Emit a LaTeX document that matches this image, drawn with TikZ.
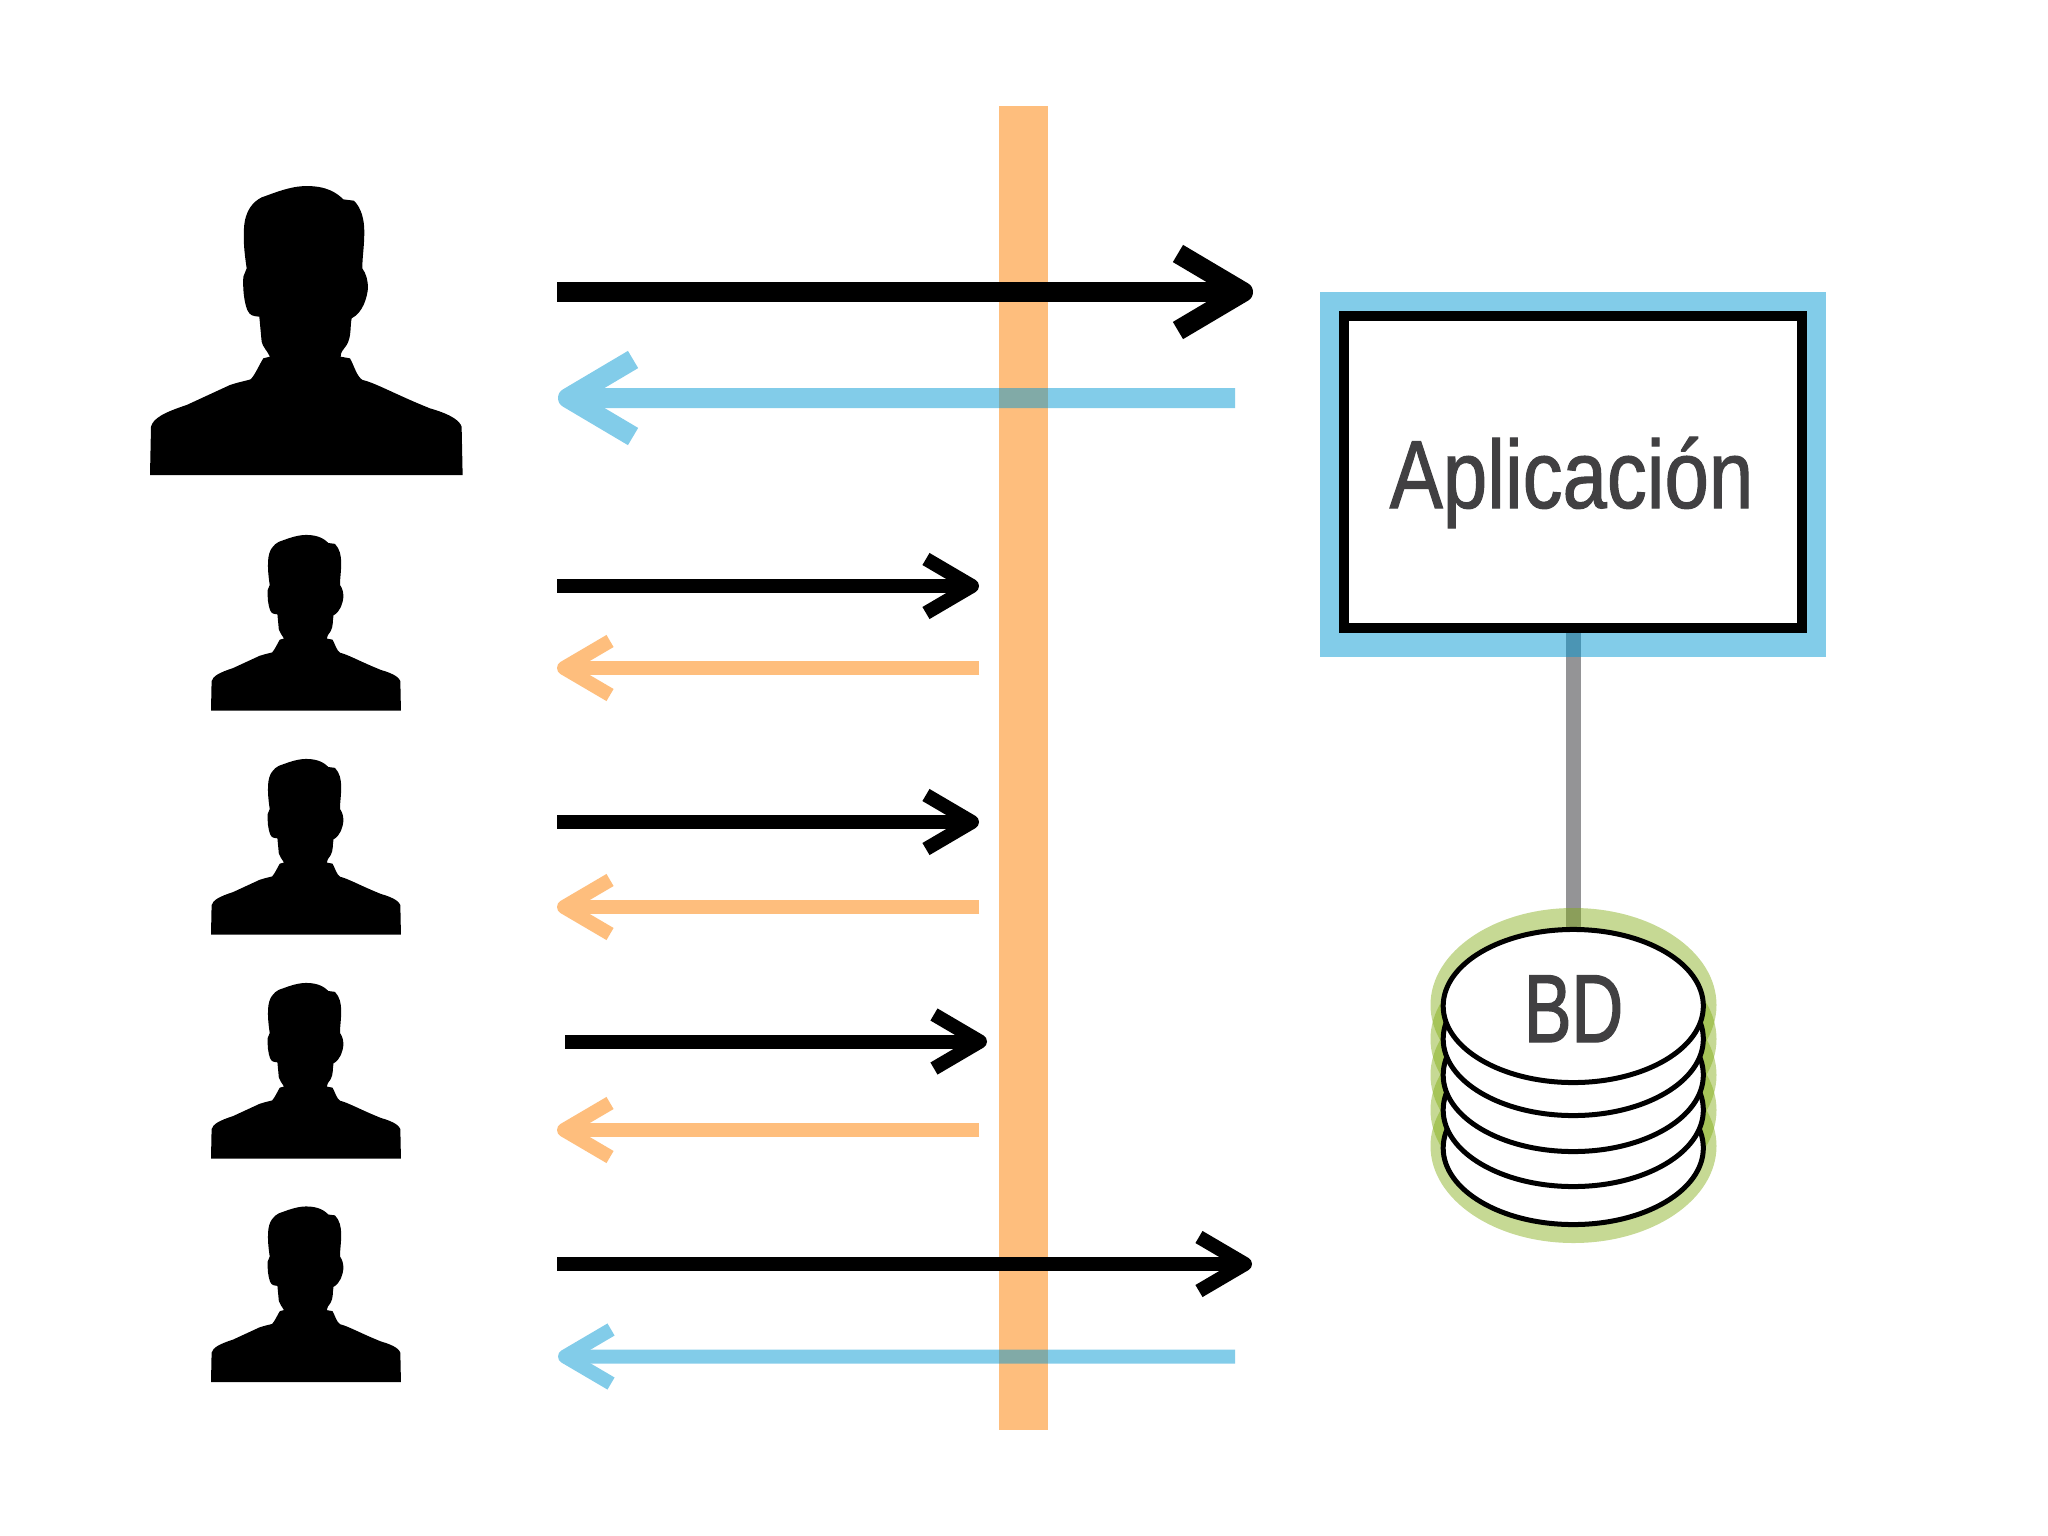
\documentclass[tikz,border=0pt]{standalone}
\usepackage{fontspec}
\setmainfont{Liberation Sans}
\newfontfamily\appfont[FakeStretch=0.825,FakeBold=1.1]{Liberation Sans}
\newfontfamily\bdfont[FakeStretch=0.74,FakeBold=1.4]{Liberation Sans}
\usetikzlibrary{arrows.meta,shapes.geometric}
\definecolor{bandorange}{HTML}{FEBE7D}
\definecolor{hblue}{HTML}{0097D4}
\definecolor{hgreen}{HTML}{81AB12}
\definecolor{connGrey}{HTML}{949496}
\definecolor{inktext}{HTML}{414042}
\pgfdeclarelayer{under}
\pgfdeclarelayer{haloes}
\pgfsetlayers{under,haloes,main}
\newcommand{\personsil}{%
  (60,945) -- (63,800) .. controls (70,775) and (100,758) .. (170,735)
  -- (300,675) .. controls (330,665) and (350,662) .. (362,658)
  .. controls (375,645) and (390,610) .. (400,595) -- (420,590)
  .. controls (410,570) and (398,560) .. (395,545) -- (388,470)
  .. controls (370,468) and (360,468) .. (352,450)
  .. controls (342,425) and (338,385) .. (340,350) -- (350,325)
  .. controls (342,270) and (340,240) .. (342,205)
  .. controls (345,150) and (370,125) .. (395,112)
  .. controls (430,100) and (480,78) .. (530,78)
  .. controls (590,78) and (620,98) .. (640,118) -- (672,122)
  .. controls (695,145) and (703,180) .. (703,215)
  .. controls (703,260) and (697,290) .. (697,325)
  .. controls (708,340) and (714,360) .. (714,385)
  .. controls (711,415) and (698,458) .. (665,475)
  .. controls (660,500) and (665,530) .. (650,555)
  .. controls (640,570) and (632,575) .. (632,590) -- (660,595)
  .. controls (672,615) and (680,650) .. (698,660)
  .. controls (735,668) and (800,705) .. (900,745)
  .. controls (970,765) and (990,785) .. (995,800) -- (998,945) -- cycle}
\tikzset{
  person/.style={fill=black,shift={(-60,-945)}},
  bigtip/.style={-{Straight Barb[length=0.65cm,width=0.77cm,line join=round,line cap=butt]},line width=0.2cm},
  smalltip/.style={-{Straight Barb[length=0.46cm,width=0.54cm,line join=round,line cap=butt]},line width=0.14cm},
  appbox/.style={draw=black,fill=white,line width=0.1cm,minimum width=4.575cm,minimum height=3.12cm,inner sep=0pt},
  disc/.style={ellipse,draw=black,fill=white,line width=0.05cm,minimum width=2.6cm,minimum height=1.53cm,inner sep=0pt},
  halogreen/.style={fill=hgreen,fill opacity=0.45},
  labeltext/.style={text=inktext,anchor=base,inner sep=0pt,font=\fontsize{27.5pt}{30pt}\selectfont},
}
\begin{document}
\begin{tikzpicture}[x=0.01cm,y=-0.01cm]
\useasboundingbox (0,0) rectangle (2048,1536);

% people
\begin{scope}[shift={(150,475)},scale=0.3333]\fill[person] \personsil;\end{scope}
\begin{scope}[shift={(211,710.5)},scale=0.2025]\fill[person] \personsil;\end{scope}
\begin{scope}[shift={(211,934.5)},scale=0.2025]\fill[person] \personsil;\end{scope}
\begin{scope}[shift={(211,1158.5)},scale=0.2025]\fill[person] \personsil;\end{scope}
\begin{scope}[shift={(211,1382)},scale=0.2025]\fill[person] \personsil;\end{scope}

% database stack and application
\node[appbox] (app) at (1573.25,472) {};
\node[disc] (d5) at (1573.25,1148) {};
\node[disc] (d4) at (1573.25,1110) {};
\node[disc] (d3) at (1573.25,1075) {};
\node[disc] (d2) at (1573.25,1039) {};
\node[disc] (bd) at (1573.25,1006) {};
\node[labeltext] (applabel) at (1571.5,508) {\appfont Aplicación};
\node[labeltext] (bdlabel) at (1573.5,1042) {\bdfont BD};

\begin{pgfonlayer}{under}
  \fill[white] (0,0) rectangle (2048,1536);
  \fill[bandorange] (998.5,106) rectangle (1048,1430);
  \draw[connGrey,line width=0.15cm] (app) -- (bd);
\end{pgfonlayer}
\begin{pgfonlayer}{haloes}
  \fill[hblue,fill opacity=0.49] (1320,292) rectangle (1826,657);
  \fill[halogreen] (1573.5,1146) ellipse [x radius=143,y radius=97];
  \fill[halogreen] (1573.5,1110) ellipse [x radius=143,y radius=97];
  \fill[halogreen] (1573.5,1075) ellipse [x radius=143,y radius=97];
  \fill[halogreen] (1573.5,1039) ellipse [x radius=143,y radius=97];
  \fill[halogreen] (1573.5,1005) ellipse [x radius=143,y radius=97];
\end{pgfonlayer}

% arrows: free ends
\coordinate (r1s) at (557,292);  \coordinate (r1e) at (1253,292);
\coordinate (b1s) at (1235,398); \coordinate (b1e) at (558,398);
\coordinate (r2s) at (557,586);  \coordinate (r2e) at (979,586);
\coordinate (p2s) at (979,668);  \coordinate (p2e) at (557,668);
\coordinate (r3s) at (557,822);  \coordinate (r3e) at (979,822);
\coordinate (p3s) at (979,907);  \coordinate (p3e) at (557,907);
\coordinate (r4s) at (565,1041.5); \coordinate (r4e) at (987,1041.5);
\coordinate (p4s) at (979,1130); \coordinate (p4e) at (557,1130);
\coordinate (r5s) at (557,1264); \coordinate (r5e) at (1252,1264);
\coordinate (b5s) at (1235,1356.5); \coordinate (b5e) at (558,1356.5);

\draw[bigtip,black] (r1s) -- (r1e);
\begin{scope}[transparency group,opacity=0.49]
  \draw[bigtip,hblue] (b1s) -- (b1e);
\end{scope}
\draw[smalltip,black] (r2s) -- (r2e);
\draw[smalltip,bandorange] (p2s) -- (p2e);
\draw[smalltip,black] (r3s) -- (r3e);
\draw[smalltip,bandorange] (p3s) -- (p3e);
\draw[smalltip,black] (r4s) -- (r4e);
\draw[smalltip,bandorange] (p4s) -- (p4e);
\draw[smalltip,black] (r5s) -- (r5e);
\begin{scope}[transparency group,opacity=0.49]
  \draw[smalltip,hblue] (b5s) -- (b5e);
\end{scope}
\end{tikzpicture}
\end{document}
